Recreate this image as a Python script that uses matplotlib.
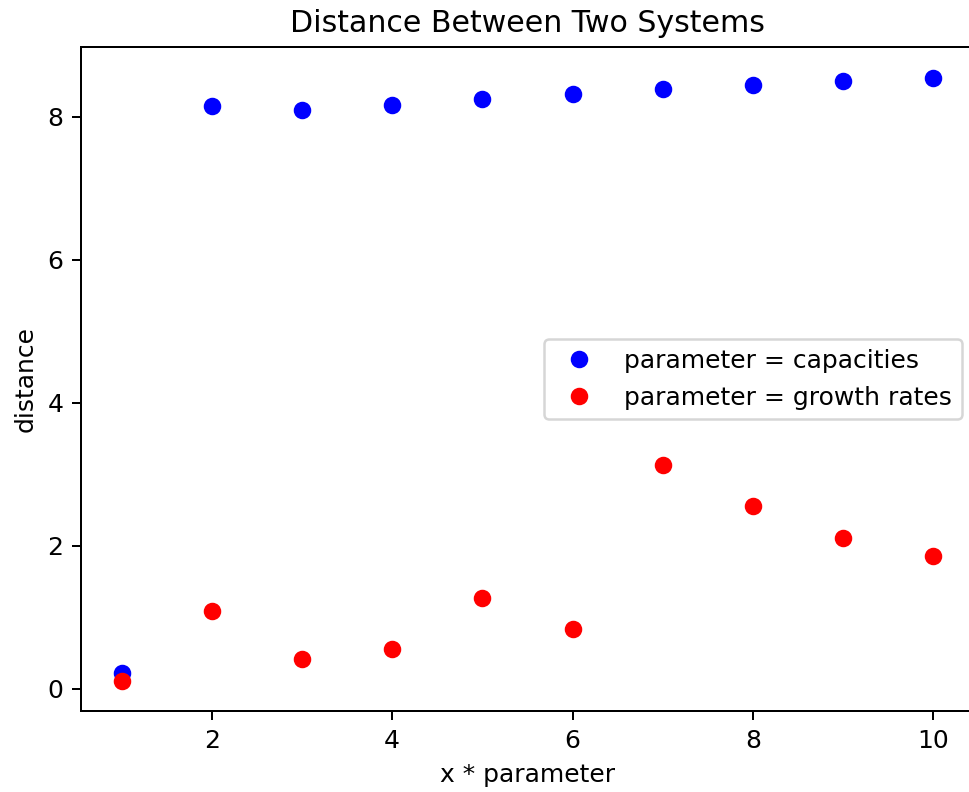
import matplotlib
matplotlib.use("Agg")
import matplotlib.pyplot as plt

x = [1, 2, 3, 4, 5, 6, 7, 8, 9, 10]
capacities = [0.22, 8.15, 8.10, 8.17, 8.25, 8.32, 8.39, 8.45, 8.50, 8.55]
growth_rates = [0.11, 1.09, 0.41, 0.56, 1.27, 0.84, 3.13, 2.55, 2.11, 1.86]

fig = plt.figure(figsize=(969/180, 792/180), dpi=180)
ax = fig.add_axes([81/969, 1-711/792, (974-81)/969, (711-47.5)/792])
ax.plot(x, capacities, 'o', color='blue', label='parameter = capacities')
ax.plot(x, growth_rates, 'o', color='red', label='parameter = growth rates')
ax.set_title('Distance Between Two Systems')
ax.set_xlabel('x * parameter')
ax.set_ylabel('distance')
ax.legend(loc='center right')
fig.savefig('out.png', dpi=180)
